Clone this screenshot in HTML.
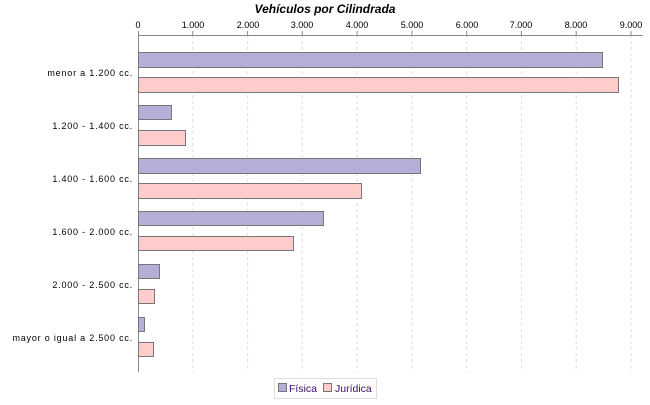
<!DOCTYPE html>
<html><head><meta charset="utf-8"><style>
body{margin:0;background:#fff;}
svg text{font-family:"Liberation Sans",sans-serif;}
</style></head><body>
<svg width="650" height="400" viewBox="0 0 650 400">
<rect width="650" height="400" fill="#fff"/>
<text x="325" y="13" text-anchor="middle" font-size="12" font-weight="bold" font-style="italic">Vehículos por Cilindrada</text>
<g stroke="#ddd" stroke-dasharray="3,3">
<line x1="192.8" y1="35" x2="192.8" y2="372"/><line x1="247.6" y1="35" x2="247.6" y2="372"/>
<line x1="302.3" y1="35" x2="302.3" y2="372"/><line x1="357.1" y1="35" x2="357.1" y2="372"/>
<line x1="411.9" y1="35" x2="411.9" y2="372"/><line x1="466.7" y1="35" x2="466.7" y2="372"/>
<line x1="521.4" y1="35" x2="521.4" y2="372"/><line x1="576.2" y1="35" x2="576.2" y2="372"/>
<line x1="631" y1="35" x2="631" y2="372"/>
</g>
<line x1="138" y1="35.5" x2="643" y2="35.5" stroke="#888"/>
<line x1="138.5" y1="35" x2="138.5" y2="372" stroke="#888"/>
<g stroke="#888">
<line x1="138.5" y1="31" x2="138.5" y2="35"/><line x1="192.8" y1="31" x2="192.8" y2="35"/><line x1="247.6" y1="31" x2="247.6" y2="35"/><line x1="302.3" y1="31" x2="302.3" y2="35"/><line x1="357.1" y1="31" x2="357.1" y2="35"/><line x1="411.9" y1="31" x2="411.9" y2="35"/><line x1="466.7" y1="31" x2="466.7" y2="35"/><line x1="521.4" y1="31" x2="521.4" y2="35"/><line x1="576.2" y1="31" x2="576.2" y2="35"/><line x1="631" y1="31" x2="631" y2="35"/>
</g>
<g font-size="9" text-anchor="middle">
<text x="138" y="28">0</text><text x="193" y="28">1.000</text><text x="248" y="28">2.000</text><text x="302" y="28">3.000</text><text x="357" y="28">4.000</text><text x="412" y="28">5.000</text><text x="467" y="28">6.000</text><text x="521" y="28">7.000</text><text x="576" y="28">8.000</text><text x="631" y="28">9.000</text>
</g>
<g stroke="#777" stroke-width="1">
<g fill="#b7aed8">
<rect x="138.5" y="52.5" width="464" height="15"/>
<rect x="138.5" y="105.5" width="33" height="14"/>
<rect x="138.5" y="158.5" width="282" height="15"/>
<rect x="138.5" y="211.5" width="185" height="14"/>
<rect x="138.5" y="264.5" width="21" height="14"/>
<rect x="138.5" y="317.5" width="6" height="14"/>
</g>
<g fill="#ffcccc">
<rect x="138.5" y="77.5" width="480" height="15"/>
<rect x="138.5" y="130.5" width="47" height="15"/>
<rect x="138.5" y="183.5" width="223" height="15"/>
<rect x="138.5" y="236.5" width="155" height="14"/>
<rect x="138.5" y="289.5" width="16" height="14"/>
<rect x="138.5" y="342.5" width="15" height="14"/>
</g>
</g>
<g font-size="9" text-anchor="end" letter-spacing="0.8">
<text x="133" y="76">menor a 1.200 cc.</text>
<text x="133" y="129">1.200 - 1.400 cc.</text>
<text x="133" y="182">1.400 - 1.600 cc.</text>
<text x="133" y="235">1.600 - 2.000 cc.</text>
<text x="133" y="288">2.000 - 2.500 cc.</text>
<text x="133" y="341">mayor o igual a 2.500 cc.</text>
</g>
<rect x="274.5" y="378.5" width="102" height="20" fill="#fff" stroke="#ddd"/>
<rect x="278.5" y="383.5" width="8" height="8" fill="#b7aed8" stroke="#777"/>
<text x="289" y="392" font-size="10.5" fill="#3a0a6a">Física</text>
<rect x="323.5" y="383.5" width="8" height="8" fill="#ffcccc" stroke="#777"/>
<text x="335" y="392" font-size="10.5" fill="#3a0a6a">Jurídica</text>
</svg>
</body></html>
